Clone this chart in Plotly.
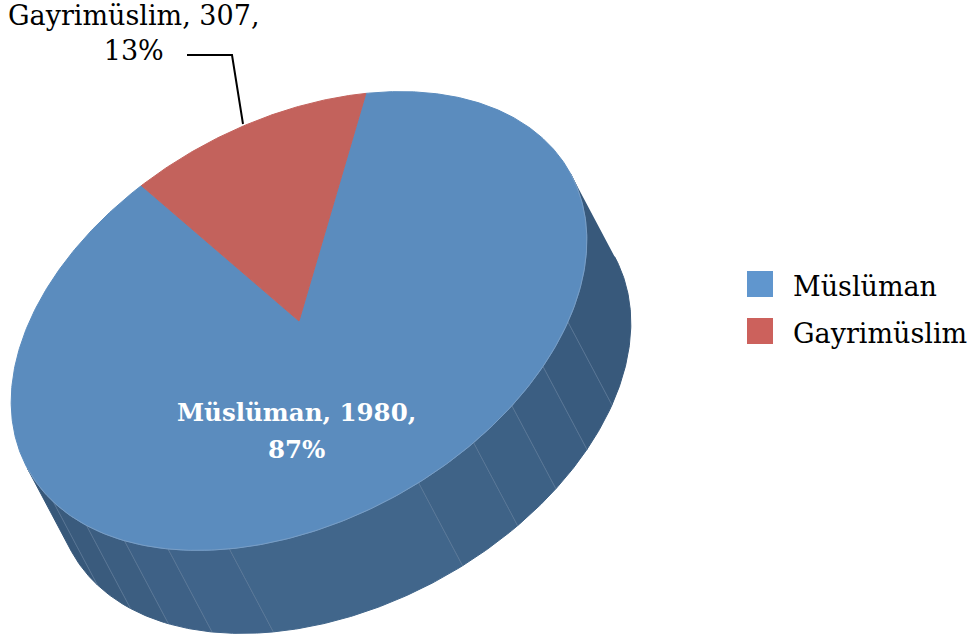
import math
import plotly.graph_objects as go

categories = ["Müslüman", "Gayrimüslim"]
values = [1980, 307]
percents = [87, 13]

# pie geometry in pixel-scaled axes
CX, CY = 299, 321
A, B = 309, 200
PHI = math.radians(-28.5)
DX, DY = 44, 83
START_T = -57.2
FORESHORTEN = 0.965
FONT = "DejaVu Serif"
FS = 27

def rim(t):
    r = math.radians(t)
    u, v = A * math.cos(r), B * math.sin(r)
    return (CX + u * math.cos(PHI) - v * math.sin(PHI),
            CY + u * math.sin(PHI) + v * math.cos(PHI))

def param(x, y):
    dx, dy = x - CX, y - CY
    u = dx * math.cos(PHI) + dy * math.sin(PHI)
    v = -dx * math.sin(PHI) + dy * math.cos(PHI)
    return math.degrees(math.atan2(v / B, u / A)) % 360

def arc(t0, t1, n=None):
    n = n or max(2, int(abs(t1 - t0) * 2))
    return [rim(t0 + (t1 - t0) * i / n) for i in range(n + 1)]

fig = go.Figure()

def poly(pts, fill, line=None, w=1):
    fig.add_trace(go.Scatter(
        x=[p[0] for p in pts], y=[p[1] for p in pts], mode="lines", fill="toself",
        fillcolor=fill, line=dict(color=line or fill, width=w),
        hoverinfo="skip", showlegend=False))

# wall facets (style only)
edge_points = [(571, 322), (546, 367), (515, 407), (477, 445), (421, 486),
               (229, 550), (168, 549), (125, 540), (87, 525), (53, 502)]
facet_colors = ["#38597B", "#395B7E", "#3B5E82", "#3D6185", "#3F6387", "#41668B",
                "#40648A", "#3E6186", "#3C5E81", "#3A5B7D", "#37587A"]
ts = [0] + [param(*p) for p in edge_points] + [180]
for i, col in enumerate(facet_colors):
    top = arc(ts[i], ts[i + 1])
    bottom = [(x + DX, y + DY) for x, y in reversed(top)]
    poly(top + bottom, col)
for t in ts[1:-1]:
    x, y = rim(t)
    fig.add_trace(go.Scatter(x=[x, x + DX], y=[y, y + DY], mode="lines",
                             line=dict(color="#64809E", width=0.7),
                             hoverinfo="skip", showlegend=False))

# top face: slice sweeps follow the values
total = sum(values)
red_sweep = 360 * values[1] / total * FORESHORTEN
t_blue0 = START_T
t_blue1 = START_T + 360 - red_sweep
centre = (CX, CY)
poly([centre] + arc(t_blue0, t_blue1) + [centre], "#5B8CBE")
poly([centre] + arc(t_blue1, t_blue1 + red_sweep) + [centre], "#C3625C")

# rim highlight along the wall
hl = arc(0, 180)
fig.add_trace(go.Scatter(x=[p[0] for p in hl], y=[p[1] for p in hl], mode="lines",
                         line=dict(color="#86A6C8", width=0.7),
                         hoverinfo="skip", showlegend=False))

# leader line
fig.add_shape(type="path", path="M 187 55 L 232 55 L 243 124",
              line=dict(color="black", width=2), xref="x", yref="y")

fig.add_annotation(x=133, y=33, text=f"{categories[1]}, {values[1]},<br>{percents[1]}%",
                   showarrow=False, xanchor="center", yanchor="middle", align="center",
                   font=dict(family=FONT, size=FS, color="black"))
fig.add_annotation(x=296, y=412, text=f"<b>{categories[0]}, {values[0]},</b>", showarrow=False,
                   xanchor="center", yanchor="middle",
                   font=dict(family=FONT, size=24.5, color="white"))
fig.add_annotation(x=296, y=449, text=f"<b>{percents[0]}%</b>", showarrow=False,
                   xanchor="center", yanchor="middle",
                   font=dict(family=FONT, size=24.5, color="white"))

# legend
legend_y = [284, 331]
legend_colors = ["#6096CE", "#CC615C"]
for name, y, col in zip(categories, legend_y, legend_colors):
    fig.add_trace(go.Scatter(x=[760], y=[y], mode="markers", name=name,
                             marker=dict(symbol="square", size=26, color=col),
                             hoverinfo="skip", showlegend=False))
    fig.add_annotation(x=791, y=y + 2, text=name, showarrow=False, xanchor="left",
                       yanchor="middle", font=dict(family=FONT, size=FS, color="black"))

fig.update_layout(
    width=971, height=638, margin=dict(l=0, r=0, t=0, b=0),
    paper_bgcolor="white", plot_bgcolor="white", showlegend=False,
    xaxis=dict(range=[0, 971], visible=False, fixedrange=True),
    yaxis=dict(range=[638, 0], visible=False, fixedrange=True),
)
fig.write_html("out.html", config={"displayModeBar": False},
               post_script="document.body.style.margin='0';document.body.style.overflow='hidden';")
